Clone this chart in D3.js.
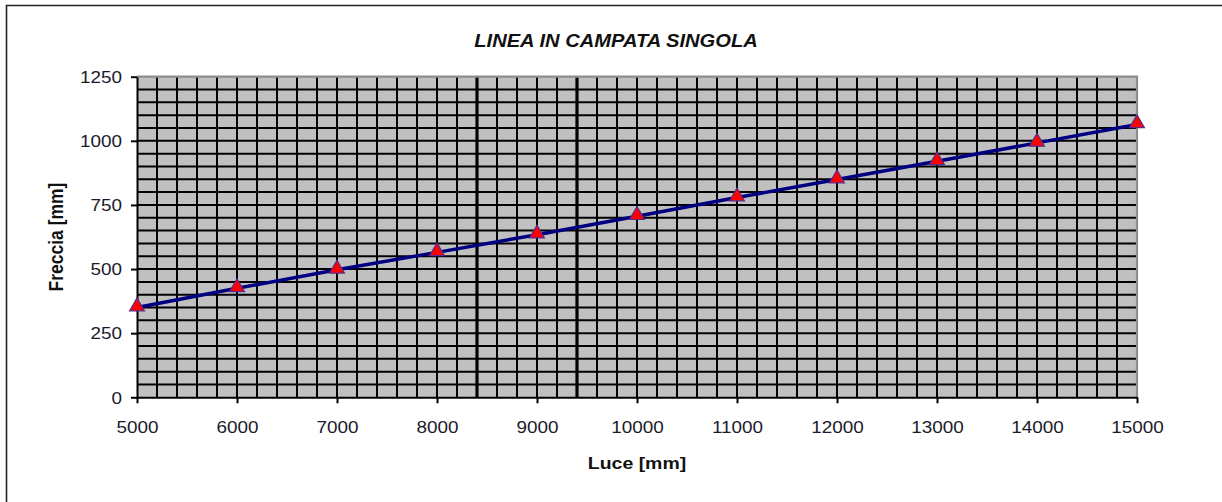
<!DOCTYPE html>
<html>
<head>
<meta charset="utf-8">
<title>LINEA IN CAMPATA SINGOLA</title>
<script src="https://cdn.jsdelivr.net/npm/d3@7"></script>
<style>
  html, body { margin: 0; padding: 0; background: #fff; }
  svg { display: block; }
</style>
</head>
<body>
<div id="chart"></div>
<script>
// data
const luce = [5000, 6000, 7000, 8000, 9000, 10000, 11000, 12000, 13000, 14000, 15000];
const freccia = [350, 425, 497, 565, 634, 706, 779, 849, 920, 992, 1064];

const xTickValues = [5000, 6000, 7000, 8000, 9000, 10000, 11000, 12000, 13000, 14000, 15000];
const yTickValues = [0, 250, 500, 750, 1000, 1250];
const heavyGridX = [8400, 9400];

const chartTitle = "LINEA IN CAMPATA SINGOLA";
const xTitle = "Luce [mm]";
const yTitle = "Freccia [mm]";

let width = 1222, height = 502;
let margin = {top: 76.7, right: 85, bottom: 104.7, left: 137};
let font = "'Liberation Sans', Arial, sans-serif";
let sx = 1.18; // the original text is stretched sideways

const svg = d3.select("#chart")
  .append("svg")
  .attr("width", width)
  .attr("height", height)
  .style("font-family", font);

const x = d3.scaleLinear()
  .domain([5000, 15000])
  .range([margin.left, width - margin.right]);

const y = d3.scaleLinear()
  .domain([0, 1250])
  .range([height - margin.bottom, margin.top]);

// outer frame (only left and top edges are in view)
svg.append("path")
  .attr("d", "M6.5,520V5.5H1240")
  .attr("fill", "none")
  .attr("stroke", "#222")
  .attr("stroke-width", 1.6);

// plot background
svg.append("rect")
  .attr("x", x(5000))
  .attr("y", y(1250))
  .attr("width", x(15000) - x(5000))
  .attr("height", y(0) - y(1250))
  .attr("fill", "#c0c0c0");

// grid
const grid = svg.append("g").attr("stroke", "#000");

grid.selectAll("line.gx")
  .data(d3.range(5200, 15000, 200))
  .join("line")
    .attr("class", "gx")
    .attr("x1", d => x(d)).attr("x2", d => x(d))
    .attr("y1", y(0)).attr("y2", y(1250))
    .attr("stroke-width", d => heavyGridX.includes(d) ? 3.2 : 2);

grid.selectAll("line.gy")
  .data(d3.range(50, 1250, 50))
  .join("line")
    .attr("class", "gy")
    .attr("x1", x(5000)).attr("x2", x(15000))
    .attr("y1", d => y(d)).attr("y2", d => y(d))
    .attr("stroke-width", 2);

// grey plot frame on top and right
svg.append("path")
  .attr("d", `M${x(5000)},${y(1250)}H${x(15000)}V${y(0)}`)
  .attr("fill", "none")
  .attr("stroke", "#8c8c8c")
  .attr("stroke-width", 2.2);

// axes
const xAxis = g => g
  .attr("transform", `translate(0,${y(0)})`)
  .call(d3.axisBottom(x).tickValues(xTickValues).tickSize(6).tickSizeOuter(0).tickFormat(d3.format("d")))
  .call(g => g.select(".domain").attr("stroke", "#000").attr("stroke-width", 2))
  .call(g => g.selectAll(".tick line").attr("stroke", "#000").attr("stroke-width", 2))
  .call(g => g.selectAll(".tick text")
    .attr("y", 0).attr("dy", null)
    .attr("transform", `translate(0,36) scale(${sx},1)`)
    .attr("font-size", 16)
    .attr("font-family", font)
    .attr("fill", "#1a1a2a"));

const yAxis = g => g
  .attr("transform", `translate(${x(5000)},0)`)
  .call(d3.axisLeft(y).tickValues(yTickValues).tickSize(6).tickSizeOuter(0).tickFormat(d3.format("d")))
  .call(g => g.select(".domain").attr("stroke", "#000").attr("stroke-width", 2))
  .call(g => g.selectAll(".tick line").attr("stroke", "#000").attr("stroke-width", 2))
  .call(g => g.selectAll(".tick text")
    .attr("x", 0).attr("dy", null).attr("y", 0)
    .attr("transform", `translate(-15,5.8) scale(${sx},1)`)
    .attr("font-size", 16)
    .attr("font-family", font)
    .attr("fill", "#1a1a2a"));

svg.append("g").call(xAxis);
svg.append("g").call(yAxis);

// series line and markers
const line = d3.line()
  .x((d, i) => x(luce[i]))
  .y(d => y(d));

svg.append("path")
  .datum(freccia)
  .attr("d", line)
  .attr("fill", "none")
  .attr("stroke", "#000080")
  .attr("stroke-width", 3.5);

svg.append("g")
  .selectAll("path")
  .data(freccia)
  .join("path")
    .attr("transform", (d, i) => `translate(${x(luce[i])},${y(d) - 1})`)
    .attr("d", d3.symbol(d3.symbolTriangle, 95))
    .attr("fill", "#ff0000")
    .attr("stroke", "#5a2a8a")
    .attr("stroke-width", 1.2);

// titles
svg.append("text")
  .attr("transform", `translate(616,46.5) scale(${sx - 0.03},1)`)
  .attr("text-anchor", "middle")
  .attr("font-size", 17.5)
  .attr("font-weight", "bold")
  .attr("font-style", "italic")
  .attr("fill", "#111")
  .text(chartTitle);

svg.append("text")
  .attr("transform", `translate(${(x(5000) + x(15000)) / 2},469) scale(${sx},1)`)
  .attr("text-anchor", "middle")
  .attr("font-size", 16.5)
  .attr("font-weight", "bold")
  .attr("fill", "#111")
  .text(xTitle);

svg.append("text")
  .attr("transform", `translate(63,${(y(0) + y(1250)) / 2}) rotate(-90) scale(1,${sx})`)
  .attr("text-anchor", "middle")
  .attr("font-size", 17.5)
  .attr("font-weight", "bold")
  .attr("fill", "#111")
  .text(yTitle);
</script>
</body>
</html>
